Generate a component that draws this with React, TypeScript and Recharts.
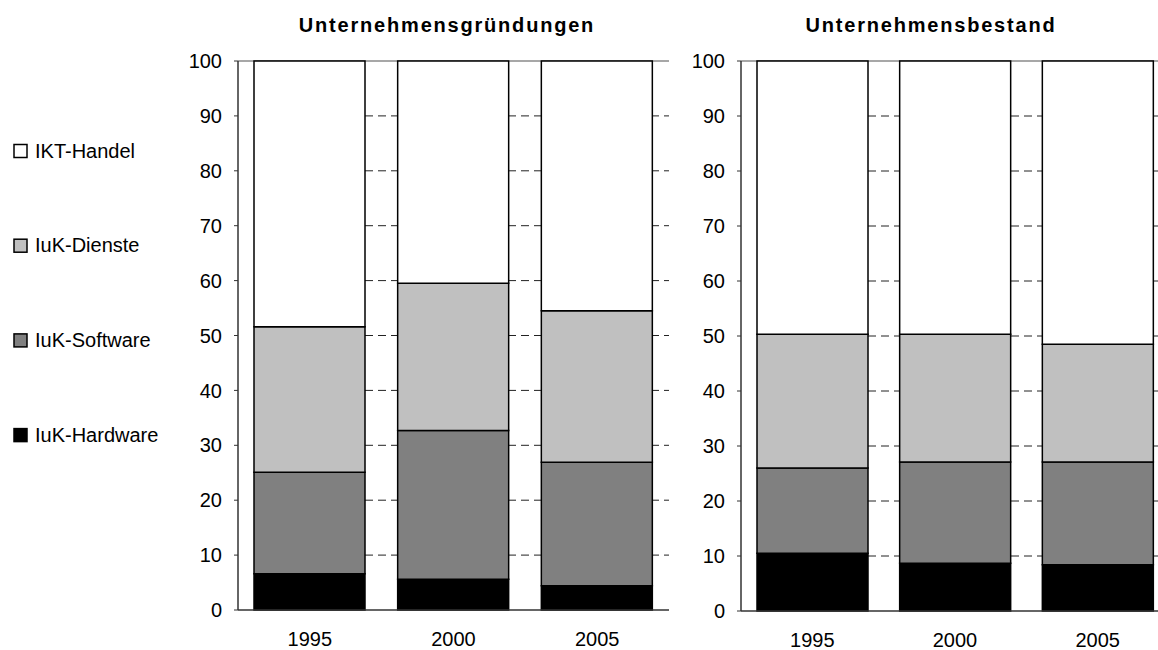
import { BarChart, Bar, XAxis, YAxis, CartesianGrid } from "recharts";

const years = ["1995", "2000", "2005"];
const seriesNames = ["IuK-Hardware", "IuK-Software", "IuK-Dienste", "IKT-Handel"];
const seriesColors = ["#000000", "#808080", "#c0c0c0", "#ffffff"];
const yTicks = [0, 10, 20, 30, 40, 50, 60, 70, 80, 90, 100];
const gridValues = [10, 20, 30, 40, 50, 60, 70, 80, 90];

// Unternehmensgründungen (Anteile in %)
const gruendungHardware = [6.6, 5.6, 4.4];
const gruendungSoftware = [18.5, 27.1, 22.5];
const gruendungDienste = [26.5, 26.8, 27.6];
const gruendungHandel = [48.4, 40.5, 45.5];

// Unternehmensbestand (Anteile in %)
const bestandHardware = [10.5, 8.7, 8.4];
const bestandSoftware = [15.5, 18.4, 18.7];
const bestandDienste = [24.3, 23.2, 21.4];
const bestandHandel = [49.7, 49.7, 51.5];

const FONT = "'Liberation Sans', Arial, sans-serif";

// dashes start a little inside the plot, like the original
const gridDash = "0 23 " + Array(40).fill("8 5").join(" ");

function buildRows(hw: number[], sw: number[], di: number[], ha: number[]) {
  return years.map((y, i) => ({
    year: y,
    s0: hw[i],
    s1: sw[i],
    s2: di[i],
    s3: ha[i],
  }));
}

const tickStyle = { fontSize: 20, fill: "#000", fontFamily: FONT };

function Panel({
  data,
  width,
  marginLeft,
  bottom,
}: {
  data: ReturnType<typeof buildRows>;
  width: number;
  marginLeft: number;
  bottom: number;
}) {
  return (
    <BarChart
      width={width}
      height={650}
      data={data}
      margin={{ top: 61, right: 11, left: marginLeft, bottom: bottom }}
    >
      <CartesianGrid
        vertical={false}
        horizontalValues={gridValues}
        stroke="#222"
        strokeDasharray={gridDash}
      />
      <CartesianGrid vertical={false} horizontalValues={[100]} stroke="#8a8a8a" strokeWidth={1.5} />
      <XAxis
        dataKey="year"
        height={30}
        tickLine={false}
        tickSize={0}
        tickMargin={22}
        axisLine={{ stroke: "#333", strokeWidth: 1.5 }}
        tick={tickStyle}
        interval={0}
      />
      <YAxis
        width={60}
        domain={[0, 100]}
        ticks={yTicks}
        interval={0}
        tickSize={4}
        tickMargin={12}
        tickLine={{ stroke: "#333" }}
        axisLine={{ stroke: "#333", strokeWidth: 1.5 }}
        tick={tickStyle}
      />
      <YAxis
        yAxisId="r"
        orientation="right"
        width={0}
        domain={[0, 100]}
        tick={false}
        tickLine={false}
        axisLine={{ stroke: "#8a8a8a", strokeWidth: 1.5 }}
      />
      {seriesNames.map((name, i) => (
        <Bar
          key={name}
          dataKey={"s" + i}
          name={name}
          stackId="a"
          fill={seriesColors[i]}
          stroke="#000"
          strokeWidth={1.5}
          barSize={111}
          isAnimationActive={false}
        />
      ))}
    </BarChart>
  );
}

export default function App() {
  const left = buildRows(gruendungHardware, gruendungSoftware, gruendungDienste, gruendungHandel);
  const right = buildRows(bestandHardware, bestandSoftware, bestandDienste, bestandHandel);
  const legendOrder = [3, 2, 1, 0];

  return (
    <div
      style={{
        position: "relative",
        width: 1158,
        height: 650,
        overflow: "hidden",
        background: "#fff",
        fontFamily: FONT,
      }}
    >
      <style>{"html,body{margin:0;padding:0;overflow:hidden;}"}</style>
      <div style={{ position: "absolute", left: 0, top: 0 }}>
        <Panel data={left} width={680} marginLeft={178} bottom={10} />
      </div>
      <div style={{ position: "absolute", left: 680, top: 0 }}>
        <Panel data={right} width={500} marginLeft={1} bottom={9} />
      </div>
      <svg
        width={1158}
        height={650}
        style={{ position: "absolute", left: 0, top: 0, pointerEvents: "none" }}
      >
        <text
          x={447}
          y={32}
          textAnchor="middle"
          fontSize={20}
          fontWeight="bold"
          fontFamily={FONT}
          style={{ letterSpacing: 1.8 }}
        >
          Unternehmensgründungen
        </text>
        <text
          x={931}
          y={32}
          textAnchor="middle"
          fontSize={20}
          fontWeight="bold"
          fontFamily={FONT}
          style={{ letterSpacing: 1.8 }}
        >
          Unternehmensbestand
        </text>
        {legendOrder.map((si, k) => {
          const base = 157.5 + k * 94.7;
          return (
            <g key={si}>
              <rect
                x={14}
                y={base - 13}
                width={13}
                height={13}
                fill={seriesColors[si]}
                stroke="#000"
                strokeWidth={1.5}
              />
              <text x={35} y={base} fontSize={20} fontFamily={FONT}>
                {seriesNames[si]}
              </text>
            </g>
          );
        })}
      </svg>
    </div>
  );
}
